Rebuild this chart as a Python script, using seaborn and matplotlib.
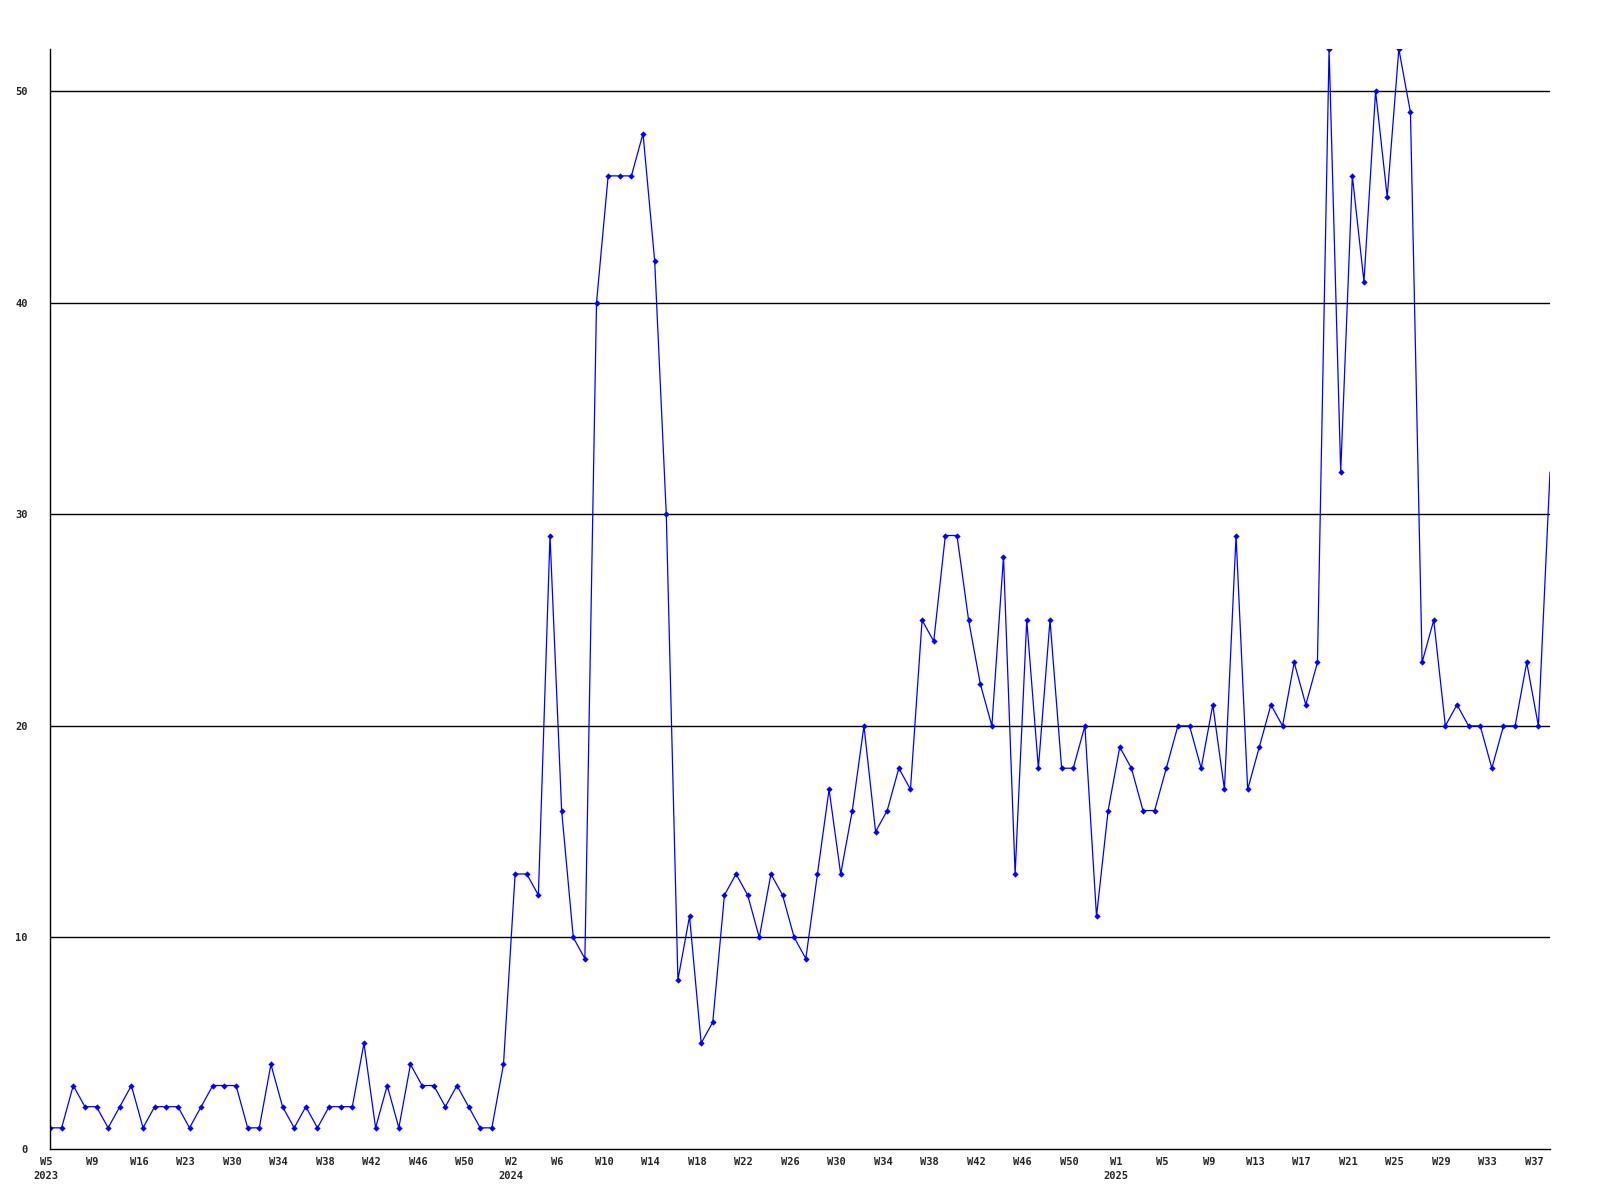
import numpy as np
import matplotlib
matplotlib.use("Agg")
import matplotlib.pyplot as plt
import matplotlib.transforms as mtransforms
import seaborn as sns

# weekly counts, one value per point
counts_2023 = [1, 1, 3, 2, 2, 1, 2, 3, 1, 2, 2, 2, 1, 2, 3, 3, 3, 1, 1, 4,
               2, 1, 2, 1, 2, 2, 2, 5, 1, 3, 1, 4, 3, 3, 2, 3, 2, 1, 1, 4]
counts_2024 = [13, 13, 12, 29, 16, 10, 9, 40, 46, 46, 46, 48, 42, 30, 8, 11,
               5, 6, 12, 13, 12, 10, 13, 12, 10, 9, 13, 17, 13, 16, 20, 15,
               16, 18, 17, 25, 24, 29, 29, 25, 22, 20, 28, 13, 25, 18, 25,
               18, 18, 20, 11, 16]
counts_2025 = [19, 18, 16, 16, 18, 20, 20, 18, 21, 17, 29, 17, 19, 21, 20,
               23, 21, 23, 52, 32, 46, 41, 50, 45, 52, 49, 23, 25, 20, 21,
               20, 20, 18, 20, 20, 23, 20, 32]
counts = counts_2023 + counts_2024 + counts_2025

# one label every 4 points
tick_labels = ["W5\n2023", "W9", "W16", "W23", "W30", "W34", "W38", "W42",
               "W46", "W50", "W2\n2024", "W6", "W10", "W14", "W18", "W22",
               "W26", "W30", "W34", "W38", "W42", "W46", "W50", "W1\n2025",
               "W5", "W9", "W13", "W17", "W21", "W25", "W29", "W33", "W37"]
y_ticks = [0, 10, 20, 30, 40, 50]

sns.set_style("white")
plt.rcParams["font.family"] = ["DejaVu Sans Mono"]

fig = plt.figure(figsize=(16, 12), dpi=100)
ax = fig.add_axes([0.03125, 0.0425, 0.9375, 0.9167])

x = np.arange(len(counts))
sns.lineplot(x=x, y=counts, ax=ax, color="#0000ff", linewidth=0.9,
             marker="D", markersize=3.2, markeredgewidth=0,
             markerfacecolor="#0000ff", markevery=list(range(len(counts) - 1)))

for v in y_ticks[1:]:
    ax.axhline(v, color="black", linewidth=1, zorder=0)

ax.set_xlim(0, len(counts) - 1)
ax.set_ylim(0, 52)
ax.set_xticks(x[::4])
ax.set_xticklabels(tick_labels, fontsize=7.5, fontweight="bold",
                   linespacing=1.5)
ax.set_yticks(y_ticks)
ax.set_yticklabels([str(v) for v in y_ticks], fontsize=7.5,
                   fontweight="bold")
ax.tick_params(axis="both", length=0)
ax.tick_params(axis="x", pad=6)
ax.tick_params(axis="y", pad=16)

# labels sit a few pixels left of their point
shift = mtransforms.ScaledTranslation(-4 / 100, 0, fig.dpi_scale_trans)
for lab in ax.get_xticklabels():
    lab.set_transform(lab.get_transform() + shift)

for s in ["top", "right"]:
    ax.spines[s].set_visible(False)
for s in ["left", "bottom"]:
    ax.spines[s].set_color("black")
    ax.spines[s].set_linewidth(1)

ax.set_xlabel("")
ax.set_ylabel("")

fig.savefig("out.png", dpi=100, facecolor="white")
